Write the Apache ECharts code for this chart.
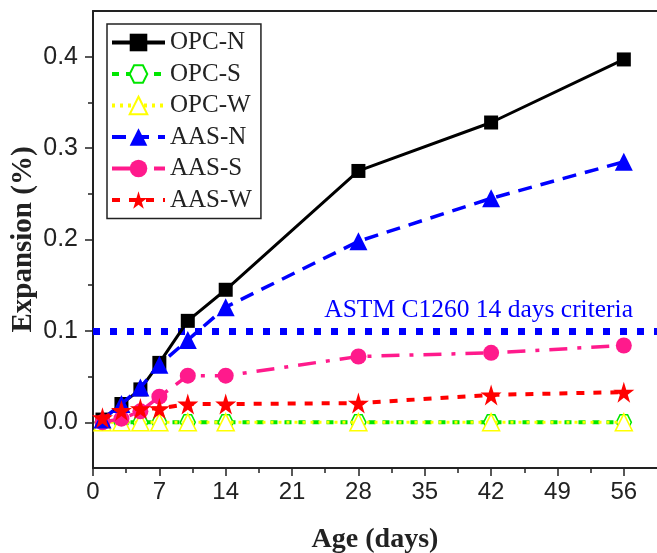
<!DOCTYPE html>
<html>
<head>
<meta charset="utf-8">
<script src="https://cdn.jsdelivr.net/npm/echarts@6/dist/echarts.min.js"></script>
<style>
html,body{margin:0;padding:0;background:#fff;}
#c{width:657px;height:553px;}
</style>
</head>
<body>
<div id="c"></div>
<script>
const ages = [1, 3, 5, 7, 10, 14, 28, 42, 56];
const opcN = [0.003, 0.020, 0.036, 0.065, 0.111, 0.145, 0.275, 0.328, 0.397];
const opcS = [0, 0, 0, 0, 0, 0, 0, 0, 0];
const opcW = [0, 0, 0, 0, 0, 0, 0, 0, 0];
const aasN = [0.003, 0.020, 0.038, 0.063, 0.090, 0.126, 0.198, 0.245, 0.285];
const aasS = [0.000, 0.004, 0.012, 0.028, 0.051, 0.051, 0.072, 0.076, 0.084];
const aasW = [0.005, 0.013, 0.015, 0.015, 0.020, 0.020, 0.021, 0.030, 0.033];
const criteria = 0.1;
const criteriaLabel = 'ASTM C1260 14 days criteria';
const xTicks = [0, 7, 14, 21, 28, 35, 42, 49, 56];
const xMinor = [3.5, 10.5, 17.5, 24.5, 31.5, 38.5, 45.5, 52.5];
const yTicks = [0, 0.1, 0.2, 0.3, 0.4];
const yMinor = [0.05, 0.15, 0.25, 0.35];

const pair = arr => ages.map((a, i) => [a, arr[i]]);
const STAR = 'path://M50,0 L61,35 L98,35 L68,57 L79,91 L50,70 L21,91 L32,57 L2,35 L39,35 Z';
const HEX = 'path://M25,0 L75,0 L100,50 L75,100 L25,100 L0,50 Z';
const SERIF = '"Liberation Serif", "Times New Roman", serif';
const SANS = '"Liberation Sans", Arial, sans-serif';
const AX = '#222';

const styles = {
  'OPC-N': {symbol: 'rect', size: 14, item: {color: '#000'}, line: {color: '#000', width: 3, type: 'solid'}},
  'OPC-S': {symbol: HEX, size: 15, item: {color: '#fff', borderColor: '#00e600', borderWidth: 1.5}, line: {color: '#00e600', width: 4, type: [7, 7]}},
  'OPC-W': {symbol: 'triangle', size: 17, item: {color: '#fff', borderColor: '#ffff00', borderWidth: 1.5}, line: {color: '#ffff00', width: 3, type: [3, 5]}},
  'AAS-N': {symbol: 'triangle', size: 18, item: {color: '#0000ff'}, line: {color: '#0000ff', width: 3.5, type: [14, 9]}},
  'AAS-S': {symbol: 'circle', size: 16, item: {color: '#ff1a8c'}, line: {color: '#ff1a8c', width: 3.5, type: [18, 10, 4, 10]}},
  'AAS-W': {symbol: STAR, size: 21, item: {color: '#ff0000'}, line: {color: '#ff0000', width: 4, type: [8, 9]}}
};
const names = ['OPC-N', 'OPC-S', 'OPC-W', 'AAS-N', 'AAS-S', 'AAS-W'];
const values = {'OPC-N': opcN, 'OPC-S': opcS, 'OPC-W': opcW, 'AAS-N': aasN, 'AAS-S': aasS, 'AAS-W': aasW};
const zs = {'OPC-N': 5, 'OPC-S': 3, 'OPC-W': 4, 'AAS-N': 6, 'AAS-S': 5, 'AAS-W': 7};

const chart = echarts.init(document.getElementById('c'), null, {renderer: 'canvas'});
const baseY = {type: 'value', min: -0.05, max: 0.45, splitLine: {show: false}};
const baseX = {type: 'value', min: 0, max: 59.5, splitLine: {show: false}};

const series = names.map(n => {
  const s = {
    name: n, type: 'line', data: pair(values[n]), z: zs[n],
    symbol: styles[n].symbol, symbolSize: styles[n].size,
    itemStyle: styles[n].item, lineStyle: styles[n].line
  };
  if (n === 'AAS-N') {
    s.markLine = {
      silent: true, symbol: 'none',
      data: [{yAxis: criteria}],
      lineStyle: {color: '#0000ff', width: 7, type: [7, 10]},
      label: {
        show: true, position: 'insideEndTop', distance: [24, 8],
        formatter: criteriaLabel,
        fontFamily: SERIF, fontSize: 25.5, color: '#0000ff'
      }
    };
  }
  return s;
});

chart.setOption({
  animation: false,
  backgroundColor: '#fff',
  grid: {left: 93, top: 11, right: 0, bottom: 85, containLabel: false, outerBoundsMode: 'none'},
  legend: {
    orient: 'vertical', left: 107, top: 24,
    padding: [6, 9, 6, 3], itemGap: 6.5, itemWidth: 53, itemHeight: 22,
    borderColor: AX, borderWidth: 1.5, backgroundColor: '#fff',
    textStyle: {fontFamily: SERIF, fontSize: 25, color: '#222', lineHeight: 25},
    data: names.map(n => ({name: n, lineStyle: {width: 4}}))
  },
  xAxis: [
    Object.assign({}, baseX, {
      position: 'bottom',
      name: 'Age (days)', nameLocation: 'middle', nameGap: 58, nameMoveOverlap: false,
      nameTextStyle: {fontFamily: SERIF, fontWeight: 'bold', fontSize: 28, color: '#222'},
      axisLine: {show: true, onZero: false, lineStyle: {color: AX, width: 2}},
      axisTick: {show: true, inside: false, length: 8, lineStyle: {color: AX, width: 1.5}, customValues: xTicks},
      axisLabel: {show: true, margin: 12, fontFamily: SANS, fontSize: 24, color: '#222', customValues: xTicks}
    }),
    Object.assign({}, baseX, {
      position: 'bottom',
      axisLine: {show: false, onZero: false},
      axisTick: {show: true, inside: false, length: 5, lineStyle: {color: AX, width: 1.5}, customValues: xMinor},
      axisLabel: {show: false}
    }),
    Object.assign({}, baseX, {
      position: 'top',
      axisLine: {show: true, onZero: false, lineStyle: {color: AX, width: 2}},
      axisTick: {show: false},
      axisLabel: {show: false}
    })
  ],
  yAxis: [
    Object.assign({}, baseY, {
      position: 'left',
      name: 'Expansion (%)', nameLocation: 'middle', nameGap: 55, nameMoveOverlap: false,
      nameTextStyle: {fontFamily: SERIF, fontWeight: 'bold', fontSize: 29, color: '#222'},
      axisLine: {show: true, onZero: false, lineStyle: {color: AX, width: 2}},
      axisTick: {show: true, inside: false, length: 8, lineStyle: {color: AX, width: 1.5}, customValues: yTicks},
      axisLabel: {show: true, margin: 15, fontFamily: SANS, fontSize: 25, color: '#222',
        customValues: yTicks, formatter: v => v.toFixed(1)}
    }),
    Object.assign({}, baseY, {
      position: 'left',
      axisLine: {show: false, onZero: false},
      axisTick: {show: true, inside: false, length: 5, lineStyle: {color: AX, width: 1.5}, customValues: yMinor},
      axisLabel: {show: false}
    })
  ],
  series: series
});
</script>
</body>
</html>
